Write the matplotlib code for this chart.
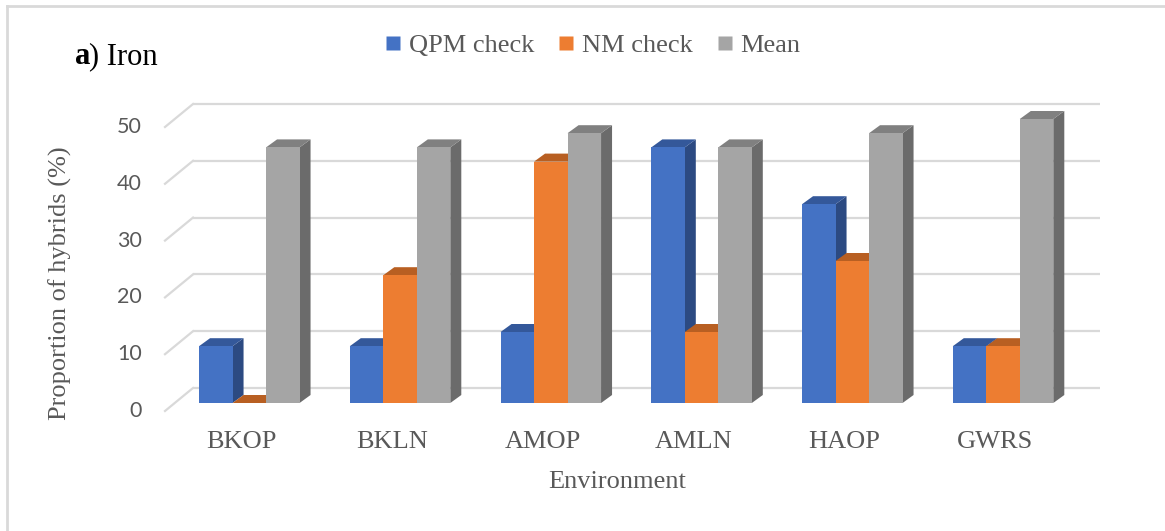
import numpy as np
import matplotlib
matplotlib.use("Agg")
import matplotlib.pyplot as plt
from matplotlib.patches import Polygon
from matplotlib.lines import Line2D

# data
environments = ["BKOP", "BKLN", "AMOP", "AMLN", "HAOP", "GWRS"]
qpm_check = [10, 10, 12.5, 45, 35, 10]
nm_check = [0, 22.5, 42.5, 12.5, 25, 10]
mean_vals = [45, 45, 47.5, 45, 47.5, 50]
series_names = ["QPM check", "NM check", "Mean"]
yticks = [0, 10, 20, 30, 40, 50]

# face colours: front, side, top
face_cols = [
    ("#4472C4", "#2C4A82", "#34589A"),
    ("#ED7D31", "#B05A20", "#B85F22"),
    ("#A5A5A5", "#6B6B6B", "#808080"),
]

# layout of the pseudo-3d frame (x in category units, y in value units)
PX_X = 150.75          # pixels per category
PX_Y = 5.68            # pixels per value unit
bar_w = 33.5 / PX_X
depth_dx = 11 / PX_X   # depth of each bar
depth_dy = 8 / PX_Y
wall_dy_back = 15 / PX_Y
wall_dy_front = -8 / PX_Y
wall_x0 = (193 - 249.3) / PX_X
wall_x1 = (1100 - 249.3) / PX_X
diag_x0 = (165 - 249.3) / PX_X
label_shift = -8 / PX_X

W, H = 1165, 531
fig = plt.figure(figsize=(W / 100, H / 100), dpi=100)
ax = fig.add_axes([0, 0, 1, 1])
ax.set_xlim((0 - 249.3) / PX_X, (W - 249.3) / PX_X)
ax.set_ylim((403 - H) / PX_Y, 403 / PX_Y)
ax.axis("off")

grid_col = "#D9D9D9"
for v in yticks:
    ax.plot([wall_x0, wall_x1], [v + wall_dy_back] * 2, color=grid_col, lw=1.6, zorder=1,
            solid_capstyle="butt")
    ax.plot([diag_x0, wall_x0], [v + wall_dy_front, v + wall_dy_back], color=grid_col,
            lw=1.6, zorder=1)
    ax.text(diag_x0 - 23 / PX_X, v + wall_dy_front, str(v), ha="right", va="center",
            fontsize=15.5, color="#595959", family="Lato")


def draw_bar(xl, h, cols, z):
    xr = xl + bar_w
    front = Polygon([(xl, 0), (xr, 0), (xr, h), (xl, h)], closed=True,
                    facecolor=cols[0], edgecolor="none", zorder=z)
    side = Polygon([(xr, 0), (xr + depth_dx, depth_dy), (xr + depth_dx, h + depth_dy), (xr, h)],
                   closed=True, facecolor=cols[1], edgecolor="none", zorder=z)
    top = Polygon([(xl, h), (xr, h), (xr + depth_dx, h + depth_dy), (xl + depth_dx, h + depth_dy)],
                  closed=True, facecolor=cols[2], edgecolor="none", zorder=z)
    for p in (side, top, front):
        ax.add_patch(p)


all_series = [qpm_check, nm_check, mean_vals]
z = 3
for i, env in enumerate(environments):
    for k, vals in enumerate(all_series):
        xl = i + (k - 1.5) * bar_w
        draw_bar(xl, vals[i], face_cols[k], z)
        z += 1
    ax.text(i + label_shift, -6.9, env, ha="center", va="center", fontsize=19,
            color="#595959", family="Liberation Serif")

# axis titles
fig.text(617 / W, 1 - 482 / H, "Environment", ha="center", va="center", fontsize=19,
         color="#595959", family="Liberation Serif")
fig.text(60 / W, 1 - 283 / H, "Proportion of hybrids (%)", ha="center", va="center",
         rotation=90, fontsize=19, color="#595959", family="Liberation Serif")

# panel title
fig.text(75 / W, 1 - 57 / H, "a", ha="left", va="center", fontsize=22,
         fontweight="bold", color="black", family="Liberation Serif")
fig.text(89 / W, 1 - 57 / H, ") Iron", ha="left", va="center", fontsize=22,
         color="black", family="Liberation Serif")

# legend
handles = [Line2D([], [], marker="s", linestyle="none", markersize=10.5,
                  markerfacecolor=c[0], markeredgecolor="none") for c in face_cols]
leg = fig.legend(handles, series_names, loc="center", bbox_to_anchor=(593 / W, 1 - 45 / H),
                 ncol=3, frameon=False, handlelength=0.6, handletextpad=0.3,
                 columnspacing=0.9, prop={"family": "Liberation Serif", "size": 19})
for t in leg.get_texts():
    t.set_color("#595959")

# chart area border (top and left edges)
fig.add_artist(Line2D([7 / W, 7 / W], [0, 1 - 6 / H], color=grid_col, lw=2))
fig.add_artist(Line2D([7 / W, 1], [1 - 6 / H, 1 - 6 / H], color=grid_col, lw=2))

fig.savefig("out.png", dpi=100, facecolor="white")
